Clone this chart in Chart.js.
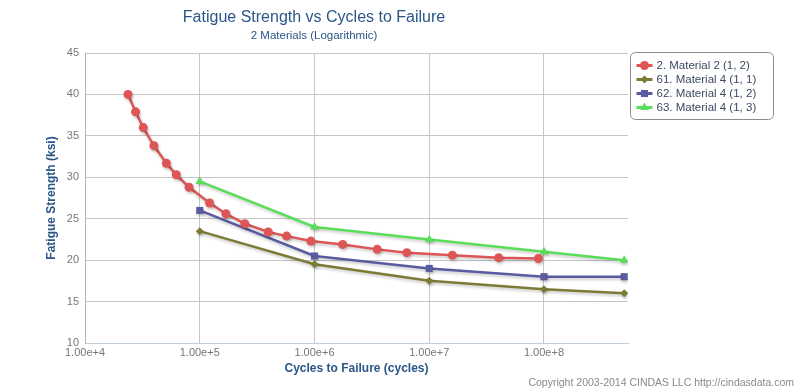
<!DOCTYPE html>
<html>
<head>
<meta charset="utf-8">
<script src="https://cdn.jsdelivr.net/npm/chart.js@4/dist/chart.umd.min.js"></script>
<style>
  html, body { margin: 0; padding: 0; background: #fff; }
  #wrap { position: relative; width: 800px; height: 390px; }
</style>
</head>
<body>
<div id="wrap"><canvas id="fatigueChart" width="800" height="390"></canvas></div>
<script>
/* ---------- data ---------- */
const seriesNames = [
    "2. Material 2 (1, 2)",
    "61. Material 4 (1, 1)",
    "62. Material 4 (1, 2)",
    "63. Material 4 (1, 3)"
];

// Material 2 (1, 2)
const mat2Cycles = [23700, 27600, 32200, 39900, 51200, 62500, 80700, 122000, 169000, 247000,
                    395000, 572000, 931000, 1760000, 3520000, 6380000, 15900000, 40300000, 89500000];
const mat2Strength = [40.0, 37.9, 36.0, 33.8, 31.7, 30.3, 28.8, 26.9, 25.6, 24.4,
                      23.4, 22.9, 22.3, 21.9, 21.3, 20.9, 20.6, 20.3, 20.2];

// Material 4 curves share the same cycle counts
const mat4Cycles = [1e5, 1e6, 1e7, 1e8, 5e8];
const mat4Strength11 = [23.5, 19.5, 17.5, 16.5, 16.0];
const mat4Strength12 = [26.0, 20.5, 19.0, 18.0, 18.0];
const mat4Strength13 = [29.5, 24.0, 22.5, 21.0, 20.0];

const xTickValues = [1e4, 1e5, 1e6, 1e7, 1e8];
const yTickMin = 10;
const yTickMax = 45;
const yTickStep = 5;

/* ---------- helpers ---------- */
const FONT = "'Liberation Sans', Arial, sans-serif";
const TITLE_BLUE = "#2b5687";

function toPoints(xs, ys) {
    return xs.map((x, i) => ({ x: x, y: ys[i] }));
}

function makeSeries(label, xs, ys, color, style, radius) {
    return {
        label: label,
        data: toPoints(xs, ys),
        borderColor: color,
        backgroundColor: color,
        borderWidth: 2.5,
        pointStyle: style,
        pointRadius: radius,
        pointBorderWidth: 0,
        tension: 0
    };
}

// soft drop shadow under each line, like the original renderer
const lineShadow = {
    id: "lineShadow",
    beforeDatasetDraw(chart) {
        const ctx = chart.ctx;
        ctx.save();
        ctx.shadowColor = "rgba(0, 0, 0, 0.22)";
        ctx.shadowBlur = 3;
        ctx.shadowOffsetX = 1;
        ctx.shadowOffsetY = 2;
    },
    afterDatasetDraw(chart) {
        chart.ctx.restore();
    }
};

// boxed legend with line + marker, and the copyright footer
const boxedLegend = {
    id: "boxedLegend",
    afterDraw(chart) {
        const ctx = chart.ctx;
        const left = chart.chartArea.right + 2.5;
        const top = 52.5;
        const w = 143, h = 67, r = 5;

        ctx.save();
        ctx.fillStyle = "#fff";
        ctx.strokeStyle = "#8c8c8c";
        ctx.lineWidth = 1;
        ctx.beginPath();
        ctx.roundRect(left, top, w, h, r);
        ctx.fill();
        ctx.stroke();

        ctx.font = "11.5px " + FONT;
        ctx.textBaseline = "middle";
        ctx.textAlign = "left";
        chart.data.datasets.forEach((ds, i) => {
            const y = top + 13 + i * 14;
            ctx.strokeStyle = ds.borderColor;
            ctx.lineWidth = 3;
            ctx.beginPath();
            ctx.moveTo(left + 6, y);
            ctx.lineTo(left + 22, y);
            ctx.stroke();
            ctx.fillStyle = ds.backgroundColor;
            Chart.helpers.drawPoint(ctx, {
                pointStyle: ds.pointStyle,
                radius: ds.pointRadius,
                rotation: 0,
                borderWidth: 0
            }, left + 14, y);
            ctx.fillStyle = "#3b4a60";
            ctx.fillText(ds.label, left + 26, y);
        });

        ctx.font = "10.5px " + FONT;
        ctx.fillStyle = "#8a8a8a";
        ctx.textAlign = "right";
        ctx.textBaseline = "alphabetic";
        ctx.fillText("Copyright 2003-2014 CINDAS LLC http://cindasdata.com", 794, 386);
        ctx.restore();
    }
};

/* ---------- chart ---------- */
const ctx = document.getElementById("fatigueChart");

new Chart(ctx, {
    type: "line",
    data: {
        datasets: [
            makeSeries(seriesNames[0], mat2Cycles, mat2Strength, "#dd5555", "circle", 4.5),
            makeSeries(seriesNames[1], mat4Cycles, mat4Strength11, "#7b7b36", "rectRot", 4),
            makeSeries(seriesNames[2], mat4Cycles, mat4Strength12, "#5a5aa2", "rect", 5),
            makeSeries(seriesNames[3], mat4Cycles, mat4Strength13, "#5ade5a", "triangle", 5)
        ]
    },
    options: {
        responsive: false,
        animation: false,
        events: [],
        layout: { padding: { left: 0, right: 172, top: 0, bottom: 0 } },
        plugins: {
            legend: { display: false },
            tooltip: { enabled: false },
            title: {
                display: true,
                text: "Fatigue Strength vs Cycles to Failure",
                color: TITLE_BLUE,
                font: { family: FONT, size: 16, weight: "normal" },
                padding: { top: 8, bottom: 2 }
            },
            subtitle: {
                display: true,
                text: "2 Materials (Logarithmic)",
                color: TITLE_BLUE,
                font: { family: FONT, size: 11.5, weight: "normal" },
                padding: { top: 0, bottom: 10 }
            }
        },
        scales: {
            x: {
                type: "logarithmic",
                min: 1e4,
                max: 5.4e8,
                afterBuildTicks: (scale) => {
                    scale.ticks = xTickValues.map(v => ({ value: v }));
                },
                afterFit: (scale) => { scale.height = 47; },
                ticks: {
                    color: "#777",
                    font: { family: FONT, size: 11 },
                    padding: 3,
                    maxRotation: 0,
                    autoSkip: false,
                    callback: (v) => Number(v).toExponential(2)
                },
                grid: { color: "#c6c6c6", drawTicks: false },
                border: { color: "#c2d0de" },
                title: {
                    display: true,
                    text: "Cycles to Failure (cycles)",
                    color: TITLE_BLUE,
                    font: { family: FONT, size: 12, weight: "bold" },
                    padding: { top: 0, bottom: 14 }
                }
            },
            y: {
                min: yTickMin,
                max: yTickMax,
                afterFit: (scale) => { scale.width = 85; },
                ticks: {
                    stepSize: yTickStep,
                    color: "#777",
                    font: { family: FONT, size: 11 },
                    padding: 6
                },
                grid: { color: "#c6c6c6", drawTicks: false },
                border: { color: "#b0b0b0" },
                title: {
                    display: true,
                    text: "Fatigue Strength (ksi)",
                    color: TITLE_BLUE,
                    font: { family: FONT, size: 12, weight: "bold" },
                    padding: { top: 44, bottom: 0 }
                }
            }
        }
    },
    plugins: [lineShadow, boxedLegend]
});
</script>
</body>
</html>
